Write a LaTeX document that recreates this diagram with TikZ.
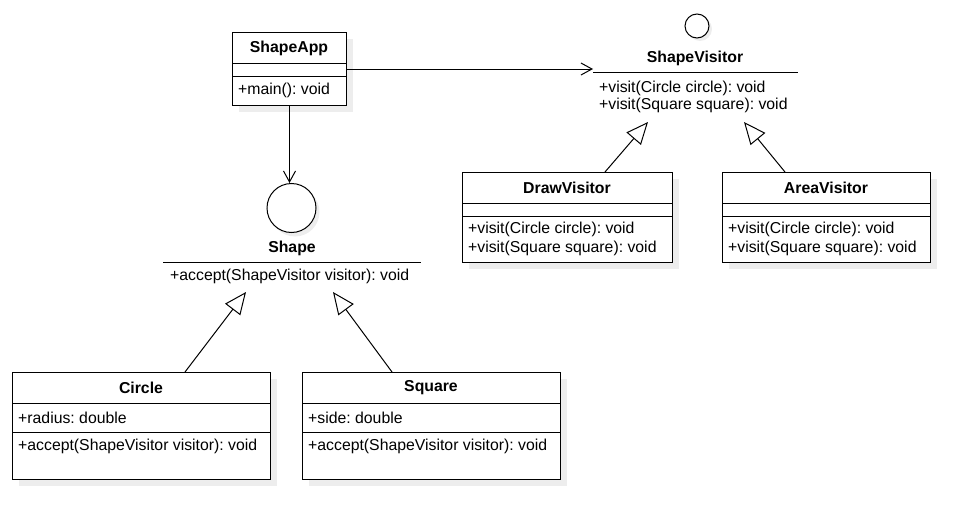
\documentclass[tikz,border=0pt]{standalone}
\usepackage{fontspec}
\setmainfont{Liberation Sans}
\frenchspacing
\usetikzlibrary{arrows.meta,calc}
\tikzset{
  x=1pt, y=-1pt,
  shadowc/.style={fill=black!7, draw=none},
  box/.style={draw=black, fill=white, line width=1pt, rectangle, inner sep=0pt, anchor=north west},
  sep/.style={draw=black, line width=1pt},
  ttl/.style={font=\fontsize{15.8}{18}\selectfont\bfseries, inner sep=0pt},
  mem/.style={font=\fontsize{15.8}{18}\selectfont, inner sep=0pt, anchor=west},
  iface/.style={circle, draw=black, fill=white, line width=1pt, inner sep=0pt},
  assoc/.style={draw=black, line width=1pt, -{Straight Barb[length=11pt,width=12pt,line width=1pt]}},
  inh/.style={draw=black, line width=1pt, -{Triangle[length=22pt,width=19pt,fill=white,line width=1pt]}},
}
\begin{document}
\begin{tikzpicture}
\useasboundingbox (0,0) rectangle (978,530);
% shadows
\fill[shadowc] (239,39) rectangle (353,112);
\fill[shadowc] (469,179) rectangle (679,269);
\fill[shadowc] (729,179) rectangle (937,269);
\fill[shadowc] (19,379) rectangle (277,486);
\fill[shadowc] (309,379) rectangle (567,486);
\fill[shadowc] (700,29) circle (12);
\fill[shadowc] (295,212) circle (24.5);

% ShapeApp
\node[box, minimum width=114pt, minimum height=73pt] (app) at (232,32) {};
\draw[sep] (232,63) -- (346,63);
\draw[sep] (232,76) -- (346,76);
\node[ttl] (appt) at (289,48) {ShapeApp};
\node[mem] (appm) at (238,90.5) {+main(): void};

% ShapeVisitor interface
\node[iface, minimum size=24pt] (svc) at (697,26) {};
\node[ttl] (svt) at (695,58) {ShapeVisitor};
\draw[sep] (593,72) coordinate (svin) -- (798,72) coordinate (svr);
\node[mem] (svm1) at (599,88) {+visit(Circle circle): void};
\node[mem] (svm2) at (599,105) {+visit(Square square): void};
\coordinate (svtipL) at (648,122);
\coordinate (svtipR) at (744,122);

% Shape interface
\node[iface, minimum size=49pt] (shc) at (291.5,208) {};
\node[ttl] (sht) at (292,248) {Shape};
\draw[sep] (163,262) -- (421,262);
\node[mem] (shm) at (170,276) {+accept(ShapeVisitor visitor): void};
\coordinate (shtipL) at (246,292);
\coordinate (shtipR) at (333,292);

% DrawVisitor
\node[box, minimum width=210pt, minimum height=90pt] (dv) at (462,172) {};
\draw[sep] (462,203) -- (672,203);
\draw[sep] (462,216) -- (672,216);
\node[ttl] (dvt) at (567,188) {DrawVisitor};
\node[mem] (dvm1) at (468,229) {+visit(Circle circle): void};
\node[mem] (dvm2) at (468,248) {+visit(Square square): void};

% AreaVisitor
\node[box, minimum width=208pt, minimum height=90pt] (av) at (722,172) {};
\draw[sep] (722,203) -- (930,203);
\draw[sep] (722,216) -- (930,216);
\node[ttl] (avt) at (826,188) {AreaVisitor};
\node[mem] (avm1) at (728,229) {+visit(Circle circle): void};
\node[mem] (avm2) at (728,248) {+visit(Square square): void};

% Circle
\node[box, minimum width=258pt, minimum height=107pt] (ci) at (12,372) {};
\draw[sep] (12,403) -- (270,403);
\draw[sep] (12,432) -- (270,432);
\node[ttl] (cit) at (141,388) {Circle};
\node[mem] (cia) at (18,418) {+radius: double};
\node[mem] (cim) at (18,446) {+accept(ShapeVisitor visitor): void};

% Square
\node[box, minimum width=258pt, minimum height=107pt] (sq) at (302,372) {};
\draw[sep] (302,403) -- (560,403);
\draw[sep] (302,432) -- (560,432);
\node[ttl] (sqt) at (431,388) {Square};
\node[mem] (sqa) at (308,418) {+side: double};
\node[mem] (sqm) at (308,446) {+accept(ShapeVisitor visitor): void};

% connectors
\draw[assoc] (app.east) -- (svin |- app.east);
\draw[assoc] (app.south) -- (app.south |- shc.north);
\draw[inh] ($(dv.north west)+(143,0)$) -- (svtipL);
\draw[inh] ($(av.north west)+(63,0)$) -- (svtipR);
\draw[inh] ($(ci.north west)+(173,0)$) -- (shtipL);
\draw[inh] ($(sq.north west)+(90,0)$) -- (shtipR);
\end{tikzpicture}
\end{document}
